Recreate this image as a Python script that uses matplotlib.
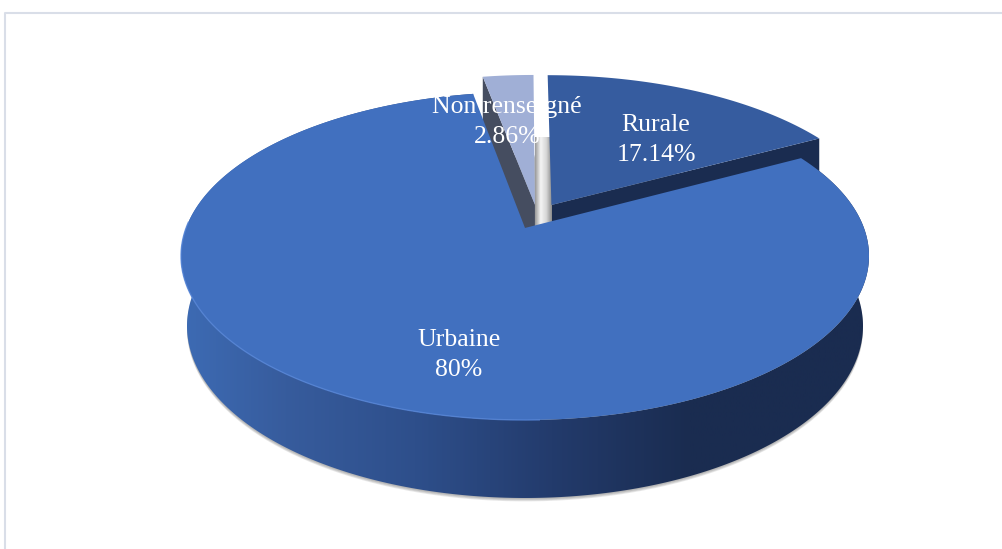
import numpy as np
from matplotlib import pyplot as plt
from matplotlib.colors import LinearSegmentedColormap
from matplotlib.patches import Polygon

labels = ['Rurale', 'Urbaine', 'Non renseigné']
values = [17.14, 80, 2.86]

# slice offsets on the pie plane, and where each label sits in the picture
explode = [(0.08, 0.148), (0, 0), (0.03, 0.15)]
label_pos = [(656, 140), (459, 355), (507, 122)]
face_colors = ['#365C9F', '#4170BF', '#A0AFD6']
wall_colors = ['#1A2C50', None, '#454D60']

# top and bottom rim of the disc seen in perspective: cx, cy, a, b
top = (525, 256, 344, 164)
bottom = (525, 326, 338, 172)
persp = 0.171

plt.rcParams['font.family'] = ['Liberation Serif', 'DejaVu Serif']


def project(x, y, rim):
    cx, cy, a, b = rim
    w = 1 + persp * y
    return cx + a * x * np.sqrt(1 - persp ** 2) / w, cy - b * (y + persp) / w


def slice_arc(start, end, off, n=200):
    t = np.radians(np.linspace(start, end, n))
    return off[0] + np.sin(t), off[1] + np.cos(t)


fig = plt.figure(figsize=(10.03, 5.49), dpi=100)
ax = fig.add_axes([0, 0, 1, 1])
ax.set_xlim(0, 1003)
ax.set_ylim(549, 0)
ax.axis('off')

# frame of the chart area, only left and top show
ax.plot([5.5, 5.5, 1003], [549, 12.5, 12.5], color='#D9DEE8', lw=1.5, zorder=1)

ends = np.cumsum(values) / np.sum(values) * 360
starts = np.r_[0, ends[:-1]]

# soft shadow under the disc
xs, ys = slice_arc(0, 360, (0, 0))
bx, by = project(xs, ys, bottom)
for i in range(4):
    ax.add_patch(Polygon(np.c_[bx, by + 1 + i * 0.8], color='#707070', alpha=0.16, lw=0, zorder=2))

# walls of the two back slices, they drop straight down
for i, edge in [(0, ends[0]), (2, starts[2])]:
    ex, ey = slice_arc(edge, edge, explode[i], 1)
    px = np.array([explode[i][0], ex[0]])
    py = np.array([explode[i][1], ey[0]])
    tx, ty = project(px, py, top)
    ly = project(px, py, bottom)[1]
    ax.add_patch(Polygon(np.c_[np.r_[tx, tx[::-1]], np.r_[ty, ly[::-1]]],
                         color=wall_colors[i], lw=0, zorder=3))

# light strip between the two back slices
x0 = project(explode[2][0], explode[2][1], top)[0]
x1 = project(explode[0][0], explode[0][1], top)[0]
strip_cmap = LinearSegmentedColormap.from_list('strip', ['#9A9A9A', '#F4F4F4', '#D8D8D8', '#8C8C8C'])
ax.imshow(np.linspace(0, 1, 64)[None, :], extent=(x0, x1, 226, 137), cmap=strip_cmap,
          aspect='auto', zorder=3)

# top faces of the back slices
for i in [0, 2]:
    xs, ys = slice_arc(starts[i], ends[i], explode[i])
    tx, ty = project(np.r_[explode[i][0], xs], np.r_[explode[i][1], ys], top)
    ax.add_patch(Polygon(np.c_[tx, ty], color=face_colors[i], lw=0, zorder=4))

# outer wall of the big slice, dark towards the right
xs, ys = slice_arc(starts[1], ends[1], explode[1], 400)
tx, ty = project(xs, ys, top)
lx, ly = project(xs, ys, bottom)
side = Polygon(np.c_[np.r_[tx, lx[::-1]], np.r_[ty, ly[::-1]]], color='none', lw=0, zorder=5)
ax.add_patch(side)
side_cmap = LinearSegmentedColormap.from_list(
    'side', [(0, '#3D6BB4'), (0.15, '#375C9D'), (0.34, '#2E4F8B'), (0.54, '#233B6C'), (0.74, '#1A2C50'), (1, '#1A2C50')])
im = ax.imshow(np.linspace(0, 1, 256)[None, :], extent=(181, 869, 505, 90), cmap=side_cmap,
               aspect='auto', zorder=5)
im.set_clip_path(side)

# top face of the big slice
tx, ty = project(np.r_[0, xs], np.r_[0, ys], top)
ax.add_patch(Polygon(np.c_[tx, ty], color=face_colors[1], lw=0, zorder=6))

# thin highlight along the lower left rim
hx, hy = slice_arc(178, 272, (0, 0))
hx, hy = project(hx, hy, top)
ax.plot(hx, hy, color='#5585D8', lw=1, alpha=0.8, zorder=7)

ax.set_xlim(0, 1003)
ax.set_ylim(549, 0)

for name, v, pos in zip(labels, values, label_pos):
    ax.text(pos[0], pos[1], f'{name}\n{v:g}%', color='white', fontsize=18.5,
            ha='center', va='center', linespacing=1.5, zorder=10)

fig.savefig('out.png', dpi=100)
